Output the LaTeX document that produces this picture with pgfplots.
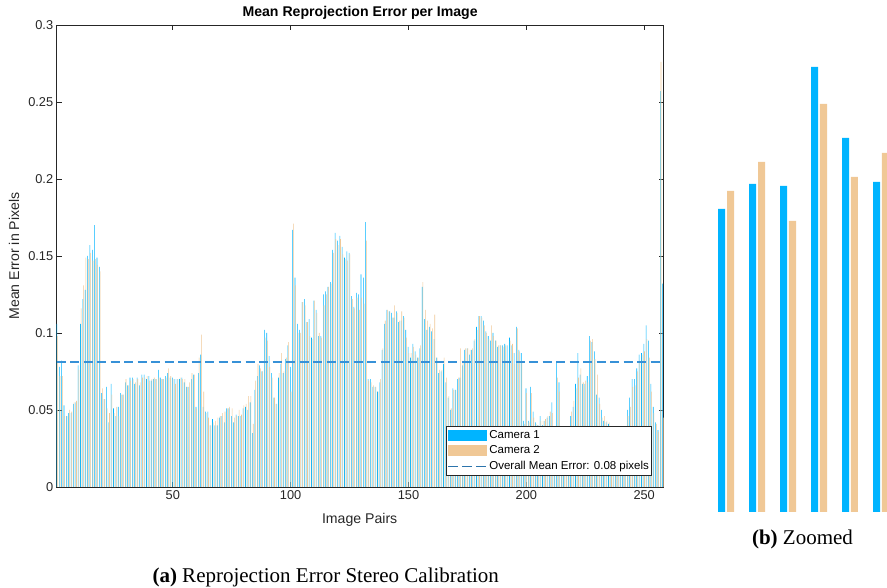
\documentclass[border=0pt]{standalone}
\usepackage{pgfplots}
\pgfplotsset{compat=1.18}
\usepackage{pgfplotstable}
\usepackage{fontspec}
\setmainfont{Liberation Serif}
\newfontfamily\arial{Liberation Sans}

\definecolor{camA}{RGB}{0,180,255}
\definecolor{camB}{RGB}{240,200,150}
\definecolor{meanline}{RGB}{55,145,215}
\definecolor{axgray}{RGB}{38,38,38}

% mean reprojection error per image pair (camera 1, camera 2)
\pgfplotstableread{
n c1 c2
1 0.106 0.098
2 0.078 0.072
3 0.082 0.072
4 0.053 0.046
5 0.046 0.046
6 0.048 0.050
7 0.048 0.049
8 0.054 0.055
9 0.055 0.056
10 0.079 0.076
11 0.106 0.116
12 0.122 0.131
13 0.128 0.149
14 0.150 0.148
15 0.157 0.152
16 0.154 0.147
17 0.170 0.148
18 0.149 0.144
19 0.143 0.140
20 0.061 0.064
21 0.057 0.057
22 0.065 0.051
23 0.042 0.048
24 0.067 0.060
25 0.051 0.048
26 0.046 0.052
27 0.052 0.046
28 0.061 0.060
29 0.060 0.060
30 0.068 0.070
31 0.066 0.066
32 0.071 0.069
33 0.071 0.070
34 0.067 0.068
35 0.071 0.070
36 0.066 0.068
37 0.073 0.071
38 0.073 0.071
39 0.070 0.072
40 0.072 0.069
41 0.069 0.070
42 0.070 0.071
43 0.070 0.070
44 0.076 0.071
45 0.071 0.070
46 0.070 0.070
47 0.072 0.071
48 0.074 0.077
49 0.071 0.072
50 0.071 0.070
51 0.070 0.067
52 0.070 0.070
53 0.070 0.071
54 0.071 0.070
55 0.068 0.070
56 0.065 0.065
57 0.065 0.068
58 0.070 0.074
59 0.073 0.073
60 0.052 0.051
61 0.074 0.084
62 0.086 0.099
63 0.052 0.062
64 0.049 0.048
65 0.049 0.045
66 0.040 0.040
67 0.044 0.042
68 0.040 0.043
69 0.040 0.045
70 0.045 0.046
71 0.046 0.048
72 0.042 0.049
73 0.051 0.051
74 0.051 0.052
75 0.046 0.051
76 0.042 0.045
77 0.047 0.046
78 0.046 0.050
79 0.046 0.047
80 0.051 0.053
81 0.052 0.054
82 0.050 0.059
83 0.055 0.059
84 0.035 0.041
85 0.063 0.069
86 0.072 0.080
87 0.079 0.077
88 0.075 0.075
89 0.102 0.097
90 0.100 0.095
91 0.085 0.078
92 0.074 0.071
93 0.058 0.058
94 0.054 0.054
95 0.071 0.074
96 0.080 0.087
97 0.074 0.075
98 0.083 0.084
99 0.092 0.094
100 0.078 0.062
101 0.167 0.171
102 0.136 0.131
103 0.106 0.100
104 0.102 0.100
105 0.120 0.120
106 0.122 0.118
107 0.107 0.107
108 0.109 0.098
109 0.097 0.096
110 0.121 0.121
111 0.115 0.113
112 0.098 0.100
113 0.098 0.097
114 0.125 0.118
115 0.127 0.125
116 0.130 0.130
117 0.133 0.132
118 0.154 0.152
119 0.165 0.161
120 0.160 0.157
121 0.163 0.161
122 0.156 0.151
123 0.149 0.148
124 0.153 0.147
125 0.152 0.151
126 0.124 0.122
127 0.117 0.116
128 0.126 0.123
129 0.125 0.115
130 0.138 0.123
131 0.136 0.119
132 0.172 0.160
133 0.070 0.069
134 0.070 0.068
135 0.065 0.066
136 0.065 0.065
137 0.062 0.062
138 0.068 0.070
139 0.089 0.090
140 0.106 0.108
141 0.115 0.115
142 0.114 0.114
143 0.113 0.110
144 0.110 0.118
145 0.114 0.113
146 0.107 0.108
147 0.108 0.114
148 0.111 0.110
149 0.102 0.097
150 0.091 0.087
151 0.084 0.087
152 0.093 0.091
153 0.088 0.086
154 0.084 0.084
155 0.090 0.092
156 0.130 0.133
157 0.109 0.115
158 0.102 0.108
159 0.104 0.106
160 0.101 0.103
161 0.096 0.112
162 0.084 0.084
163 0.074 0.076
164 0.075 0.076
165 0.080 0.084
166 0.068 0.071
167 0.058 0.059
168 0.050 0.051
169 0.064 0.063
170 0.063 0.063
171 0.070 0.071
172 0.071 0.090
173 0.079 0.082
174 0.089 0.090
175 0.090 0.090
176 0.086 0.089
177 0.089 0.090
178 0.095 0.096
179 0.104 0.102
180 0.111 0.111
181 0.111 0.110
182 0.108 0.105
183 0.101 0.100
184 0.098 0.096
185 0.095 0.105
186 0.100 0.098
187 0.095 0.095
188 0.091 0.092
189 0.092 0.092
190 0.092 0.091
191 0.093 0.092
192 0.092 0.082
193 0.097 0.095
194 0.092 0.093
195 0.087 0.080
196 0.104 0.103
197 0.089 0.088
198 0.087 0.082
199 0.043 0.041
200 0.064 0.061
201 0.043 0.042
202 0.065 0.061
203 0.049 0.045
204 0.042 0.041
205 0.040 0.040
206 0.046 0.043
207 0.040 0.043
208 0.043 0.044
209 0.045 0.046
210 0.046 0.049
211 0.055 0.048
212 0.036 0.034
213 0.081 0.071
214 0.068 0.062
215 0.038 0.036
216 0.033 0.035
217 0.036 0.032
218 0.034 0.037
219 0.046 0.049
220 0.052 0.056
221 0.067 0.064
222 0.087 0.071
223 0.073 0.077
224 0.067 0.068
225 0.067 0.069
226 0.072 0.068
227 0.098 0.095
228 0.094 0.096
229 0.088 0.083
230 0.060 0.073
231 0.058 0.054
232 0.050 0.045
233 0.043 0.046
234 0.042 0.043
235 0.041 0.042
236 0.035 0.033
237 0.032 0.036
238 0.034 0.031
239 0.036 0.034
240 0.031 0.035
241 0.035 0.033
242 0.037 0.036
243 0.050 0.046
244 0.058 0.052
245 0.070 0.065
246 0.070 0.066
247 0.077 0.075
248 0.086 0.082
249 0.087 0.086
250 0.093 0.088
251 0.105 0.096
252 0.095 0.084
253 0.067 0.062
254 0.052 0.048
255 0.042 0.041
256 0.037 0.036
257 0.257 0.276
258 0.132 0.045
}\errtab

\begin{document}
\begin{tikzpicture}[x=1pt,y=1pt]
\useasboundingbox (0,0) rectangle (887,588);

% (a) full view
\begin{axis}[
  at={(56.7pt,101pt)}, anchor=south west,
  scale only axis, width=606.8pt, height=462pt,
  xmin=0.75, xmax=258.2, ymin=0, ymax=0.3,
  enlargelimits=false,
  xtick={50,100,150,200,250}, xticklabels={50,100,150,200,250},
  ytick={0,0.05,0.1,0.15,0.2,0.25,0.3},
  yticklabels={0,0.05,0.1,0.15,0.2,0.25,0.3},
  tick align=inside, major tick length=5pt, tick pos=both,
  axis line style={axgray, line width=0.7pt},
  tick style={axgray, line width=0.7pt},
  ticklabel style={font=\arial\fontsize{12.8}{14}\selectfont, text=axgray},
  xlabel={Image Pairs}, ylabel={Mean Error in Pixels},
  label style={font=\arial\fontsize{14.1}{16}\selectfont, text=axgray},
  xlabel style={at={(axis description cs:0.4993,-0.0714)}, anchor=center},
  ylabel style={at={(axis description cs:-0.0704,0.5)}, anchor=center},
  title={Mean Reprojection Error per Image},
  every axis title shift=0pt,
  title style={at={(axis description cs:0.5,1.026)}, anchor=center,
    font=\arial\bfseries\fontsize{14.1}{16}\selectfont, text=black},
  legend style={at={(1,0)}, anchor=south east, xshift=-11.5pt, yshift=11pt,
    draw=axgray, line width=0.6pt, fill=white,
    font=\arial\fontsize{11.5}{13}\selectfont, text=black,
    inner xsep=1pt, inner ysep=2.5pt, row sep=2.5pt,
    nodes={inner sep=1.8pt}},
  legend cell align=left,
]
\addplot[ybar, bar width=0.24, bar shift=-0.145, fill=camA, draw=none,
  legend image code/.code={\fill[camA] (0pt,-5.5pt) rectangle (39pt,5.5pt);}]
  table[x=n, y=c1] {\errtab};
\addlegendentry{Camera 1}
\addplot[ybar, bar width=0.24, bar shift=0.145, fill=camB, draw=none,
  legend image code/.code={\fill[camB] (0pt,-5.5pt) rectangle (39pt,5.5pt);}]
  table[x=n, y=c2] {\errtab};
\addlegendentry{Camera 2}
\addplot[meanline, line width=1.6pt, dash pattern=on 9pt off 4.5pt,
  legend image code/.code={\draw[meanline!80!black, line width=1pt, dash pattern=on 10pt off 4pt] (0pt,0pt) -- (39pt,0pt);}]
  coordinates {(0.75,0.0813) (258.2,0.0813)};
\addlegendentry{Overall Mean Error: 0.08 pixels}
\end{axis}

% (b) zoomed bars
\begin{axis}[
  at={(700pt,76pt)}, anchor=south west,
  scale only axis, width=187pt, height=450pt,
  xmin=0.161, xmax=6.194, ymin=0, ymax=4.5,
  hide axis, clip=true,
]
\addplot[ybar, bar width=0.226, bar shift=-0.145, fill=camA, draw=none]
  coordinates {(1,3.03) (2,3.28) (3,3.26) (4,4.45) (5,3.74) (6,3.30)};
\addplot[ybar, bar width=0.226, bar shift=0.145, fill=camB, draw=none]
  coordinates {(1,3.21) (2,3.50) (3,2.91) (4,4.08) (5,3.35) (6,3.59)};
\end{axis}

\node[anchor=base, inner sep=0pt, font=\fontsize{21}{24}\selectfont]
  at (802.5pt,43pt) {\textbf{(b)} Zoomed};
\node[anchor=base, inner sep=0pt, font=\fontsize{21}{24}\selectfont]
  at (325.7pt,5.5pt) {\textbf{(a)} Reprojection Error Stereo Calibration};
\end{tikzpicture}
\end{document}
